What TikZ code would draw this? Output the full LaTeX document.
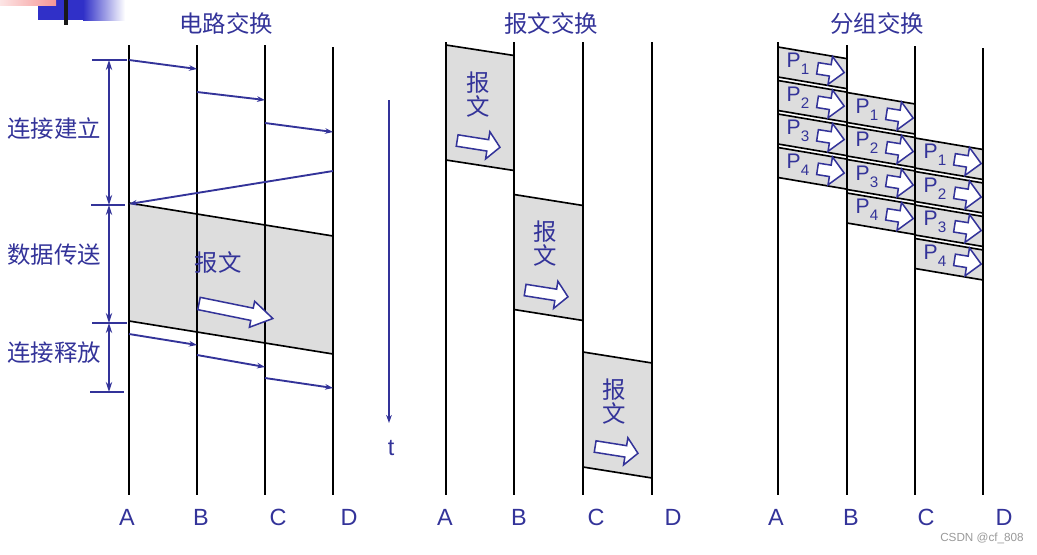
\documentclass[tikz,border=0pt]{standalone}
\usepackage{fontspec}
\setmainfont{Liberation Sans}
\newfontfamily\cjk{Noto Sans CJK SC}
\usetikzlibrary{arrows.meta, positioning, shapes.arrows}
\definecolor{inkblue}{RGB}{51,51,153}
\definecolor{bandgray}{RGB}{221,221,221}
\definecolor{barblue}{RGB}{48,48,200}
\definecolor{barpink}{RGB}{245,150,150}
\newcommand{\pkt}[1]{P\raisebox{-0.6ex}{\fontsize{13}{13}\selectfont #1}}

\begin{document}
\begin{tikzpicture}[x=0.03cm, y=-0.03cm,
  lifeline/.style={line width=1.8pt},
  edge/.style={line width=1.4pt},
  signal/.style={-{Stealth[length=2.4mm, width=1.7mm]}, inkblue, line width=1.6pt},
  span/.style={{Stealth[length=3mm, width=1.9mm]}-{Stealth[length=3mm, width=1.9mm]}, inkblue, line width=1.6pt},
  tick/.style={inkblue, line width=1.8pt},
  cjktext/.style={inkblue, font=\cjk\fontsize{20}{20.5}\selectfont, align=center, inner sep=0pt},
  station/.style={inkblue, font=\fontsize{20}{22}\selectfont},
  hollow/.style={single arrow, draw=inkblue, fill=white, line width=1.3pt, inner xsep=0pt,
    minimum width=0pt, single arrow head indent=0pt},
  bigarrow/.style={hollow, minimum height=2.26cm, inner ysep=0.165cm, single arrow head extend=0.21cm, single arrow tip angle=64},
  msgarrow/.style={hollow, minimum height=1.3cm, inner ysep=0.15cm, single arrow head extend=0.24cm, single arrow tip angle=96},
  pktarrow/.style={hollow, minimum height=0.81cm, inner ysep=0.15cm, single arrow head extend=0.25cm, single arrow tip angle=90},
  pkttext/.style={inkblue, font=\fontsize{18}{18}\selectfont, inner sep=0pt}
]
\useasboundingbox (0,0) rectangle (1037,554);

% slide corner
\fill[barblue] (38,0) rectangle (83,20);
\shade[left color=barblue, right color=white] (83,0) rectangle (125,20);
\shade[left color=barpink!25, right color=barpink] (0,0) rectangle (56,5);
\fill[black!90] (64,0) rectangle (68,25);

% titles
\node[cjktext] (ctitle) at (226,24) {电路交换};
\node[cjktext] (mtitle) at (551,24) {报文交换};
\node[cjktext] (ptitle) at (877,24) {分组交换};

% circuit switching
\fill[bandgray] (129,203) -- (333,236) -- (333,354) -- (129,321) -- cycle;
\draw[edge] (129,203) -- (333,236);
\draw[edge] (129,321) -- (333,354);
\draw[lifeline] (129,45) -- (129,495);
\draw[lifeline] (197,45) -- (197,495);
\draw[lifeline] (265,45) -- (265,495);
\draw[lifeline] (333,47) -- (333,495);
\node[cjktext] (cmsg) at (218,263) {报文};
\node[bigarrow, rotate=-11.5] (carrow) at (231,310) {};

\coordinate (s1) at (129,60);  \coordinate (r1) at (197,69);
\coordinate (s2) at (197,92);  \coordinate (r2) at (265,100);
\coordinate (s3) at (265,123); \coordinate (r3) at (333,132);
\coordinate (s4) at (333,171); \coordinate (r4) at (129,204);
\coordinate (s5) at (129,334); \coordinate (r5) at (197,345);
\coordinate (s6) at (197,355); \coordinate (r6) at (265,367);
\coordinate (s7) at (265,378); \coordinate (r7) at (333,388);
\foreach \i in {1,...,7}
  \draw[signal] (s\i) -- (r\i);

\draw[tick] (92,60) -- (127,60);
\draw[tick] (91,205) -- (125,205);
\draw[tick] (92,323) -- (127,323);
\draw[tick] (90,392) -- (124,392);
\coordinate (m1) at (109,60);
\coordinate (m2) at (109,205);
\coordinate (m3) at (109,323);
\coordinate (m4) at (109,392);
\draw[span] (m1) -- (m2);
\draw[span] (m2) -- (m3);
\draw[span] (m3) -- (m4);
\node[cjktext] (setup) at (54,129) {连接建立};
\node[cjktext] (xfer) at (54,255) {数据传送};
\node[cjktext] (rel) at (54,353) {连接释放};

% time axis
\coordinate (t0) at (389,100);
\coordinate (t1) at (389,423);
\draw[signal] (t0) -- (t1);
\node[station] (tlab) at (391,448) {t};

% message switching
\fill[bandgray] (446,45) -- (514,55.5) -- (514,170.5) -- (446,160) -- cycle;
\fill[bandgray] (514,194.5) -- (583,205.5) -- (583,320.5) -- (514,309.5) -- cycle;
\fill[bandgray] (583,352) -- (652,363) -- (652,478) -- (583,467) -- cycle;
\draw[edge] (446,45) -- (514,55.5);
\draw[edge] (446,160) -- (514,170.5);
\draw[edge] (514,194.5) -- (583,205.5);
\draw[edge] (514,309.5) -- (583,320.5);
\draw[edge] (583,352) -- (652,363);
\draw[edge] (583,467) -- (652,478);
\draw[lifeline] (446,42) -- (446,495);
\draw[lifeline] (514,42) -- (514,495);
\draw[lifeline] (583,42) -- (583,495);
\draw[lifeline] (652,42) -- (652,495);
\node[cjktext] (msg1) at (478,95) {报\\文};
\node[cjktext] (msg2) at (545,244) {报\\文};
\node[cjktext] (msg3) at (614,402) {报\\文};
\node[msgarrow, rotate=-9] (marrow1) at (476,143.5) {};
\node[msgarrow, rotate=-9] (marrow2) at (544,293) {};
\node[msgarrow, rotate=-9] (marrow3) at (614,449.5) {};

% packet switching
\foreach \cx/\cy in {778/47, 847/92.5, 915/138} {
  \foreach \j in {1,...,4} {
    \pgfmathsetmacro\ty{\cy+33.5*(\j-1)}
    \fill[bandgray] (\cx,\ty) -- ++(68,11.5) -- ++(0,30) -- ++(-68,-11.5) -- cycle;
    \draw[edge] (\cx,\ty) -- ++(68,11.5);
    \draw[edge] (\cx,\ty+30) -- ++(68,11.5);
    \node[pkttext] at (\cx+20,\ty+17) {\pkt{\j}};
    \node[pktarrow, rotate=-9] at (\cx+50,\ty+23) {};
  }
}
\draw[lifeline] (778,42) -- (778,495);
\draw[lifeline] (847,45) -- (847,495);
\draw[lifeline] (915,46) -- (915,495);
\draw[lifeline] (983,48) -- (983,495);

% stations
\node[station] (cA) at (127,517) {A};
\node[station] (cB) at (201,517) {B};
\node[station] (cC) at (278,517) {C};
\node[station] (cD) at (349,517) {D};
\node[station] (mA) at (445,517) {A};
\node[station] (mB) at (519,517) {B};
\node[station] (mC) at (596,517) {C};
\node[station] (mD) at (673,517) {D};
\node[station] (pA) at (776,517) {A};
\node[station] (pB) at (851,517) {B};
\node[station] (pC) at (926,517) {C};
\node[station] (pD) at (1004,517) {D};

\node[black!40, font=\fontsize{10}{11}\selectfont] (mark) at (982,538) {CSDN @cf\_808};
\end{tikzpicture}
\end{document}
